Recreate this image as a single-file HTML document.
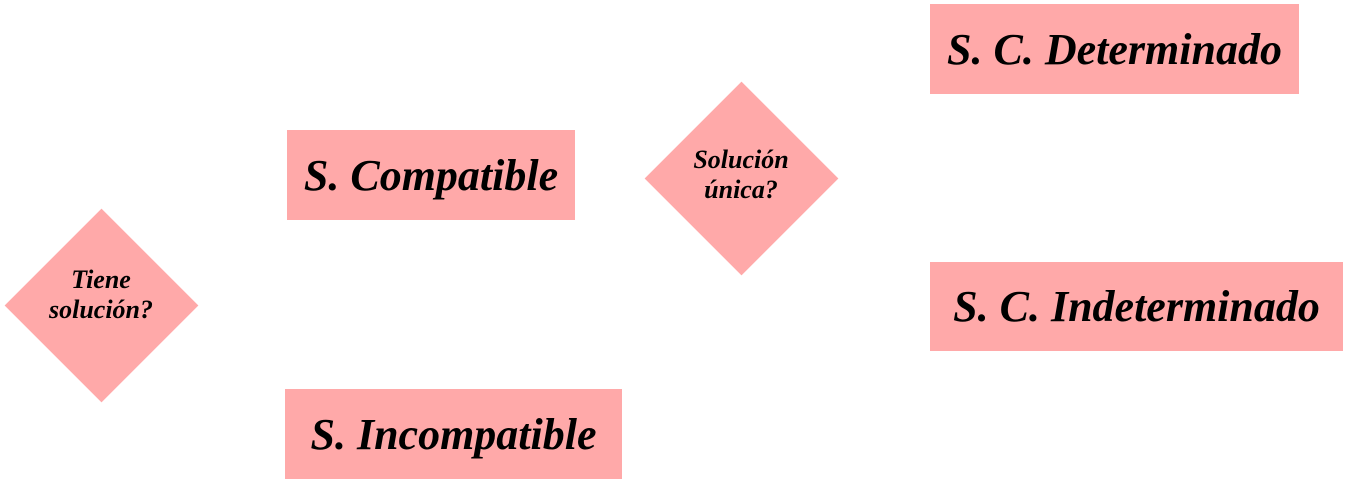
<!DOCTYPE html>
<html><head><meta charset="utf-8"><style>
body{margin:0;width:1348px;height:484px;background:#fff;position:relative;overflow:hidden;font-family:"Liberation Serif",serif;font-style:italic;font-weight:bold}
.b{position:absolute;background:#ffa9a9;display:flex;align-items:center;justify-content:center;font-size:44px;color:#000;white-space:nowrap}
.d{position:absolute;width:137px;height:137px;background:#ffa9a9;transform:rotate(45deg)}
.t{position:absolute;text-align:center;font-size:26px;line-height:30px;color:#000}
</style></head><body>
<div class="b" style="left:930px;top:4px;width:369px;height:90px">S. C. Determinado</div>
<div class="b" style="left:287px;top:130px;width:288px;height:90px">S. Compatible</div>
<div class="b" style="left:930px;top:262px;width:413px;height:89px">S. C. Indeterminado</div>
<div class="b" style="left:285px;top:389px;width:337px;height:90px">S. Incompatible</div>
<div class="d" style="left:33px;top:237px"></div>
<div class="d" style="left:673px;top:110px"></div>
<div class="t" style="left:11px;top:265px;width:180px">Tiene<br>solución?</div>
<div class="t" style="left:651px;top:145px;width:180px">Solución<br>única?</div>
</body></html>
